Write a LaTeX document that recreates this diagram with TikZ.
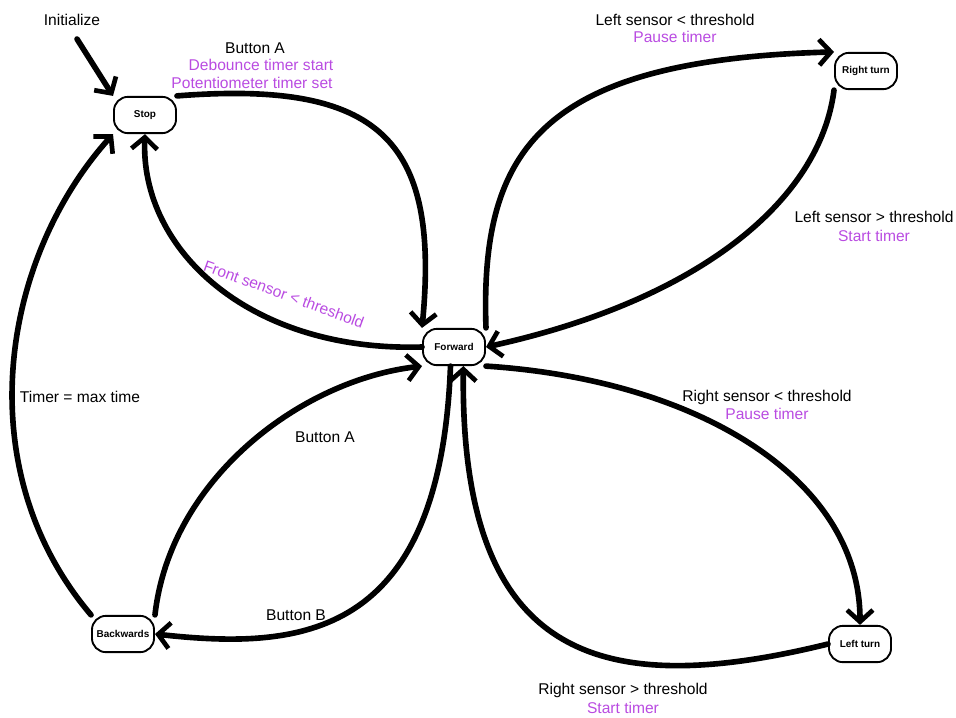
\documentclass[tikz,border=0pt]{standalone}
\usepackage{fontspec}
\setmainfont{Liberation Sans}
\usetikzlibrary{arrows.meta}
\definecolor{lblpurple}{RGB}{185,75,225}
\tikzset{
  state/.style={draw=black, line width=1.6pt, rounded corners=12pt, fill=white,
    minimum width=53pt, minimum height=31pt, inner sep=1pt,
    font=\fontsize{8.5}{10}\selectfont\bfseries},
  edge/.style={line width=4.8pt, line cap=round, -{Straight Barb[length=10pt,width=22pt,line width=4pt]}},
  lbl/.style={font=\fontsize{13.3}{16}\selectfont, align=center, inner sep=0pt},
  plbl/.style={lbl, text=lblpurple},
}
\begin{document}
\begin{tikzpicture}[x=0.03cm,y=-0.03cm]
\path[use as bounding box] (0,0) rectangle (956,717);

\node[state] (stop) at (145,115) {Stop};
\node[state] (fwd) at (454,347) {Forward};
\node[state] (rt) at (866,71) {Right turn};
\node[state] (bk) at (123,634) {Backwards};
\node[state] (lt) at (860,644) {Left turn};

\coordinate (init) at (77,39);

% Initialize -> Stop
\draw[edge] (init) -- (stop.north west);

% Stop -> Forward
\draw[edge] (stop.north east) .. controls (380,80) and (440,140) .. (fwd.north west);
% Forward -> Stop
\draw[edge] (fwd.west) .. controls (250,352) and (140,250) .. (stop.south);
% Forward -> Right turn
\draw[edge] (fwd.north east) .. controls (480,150) and (540,60) .. (rt.north west);
% Right turn -> Forward
\draw[edge] (rt.south west) .. controls (820,200) and (700,300) .. (fwd.east);
% Forward -> Left turn
\draw[edge] (fwd.south east) .. controls (700,380) and (860,480) .. (lt.north);
% Left turn -> Forward
\draw[edge] (lt.west) .. controls (600,700) and (460,660) .. ([xshift=8pt]fwd.south);
% Backwards -> Stop
\draw[edge] (bk.north west) .. controls (-32,470) and (0,260) .. (stop.south west);
% Forward -> Backwards
\draw[edge] ([xshift=-3pt]fwd.south) .. controls (440,640) and (300,650) .. (bk.east);
% Backwards -> Forward
\draw[edge] (bk.north east) .. controls (170,480) and (300,380) .. (fwd.south west);

% Labels
\node[lbl] (linit) at (72,20) {Initialize};
\node[lbl] (lba1) at (255,48) {Button A};
\node[plbl] (lba2) at (261,65) {Debounce timer start};
\node[plbl] (lba3) at (252,83) {Potentiometer timer set};
\node[plbl, rotate=-20] (lfront) at (284,294) {Front sensor < threshold};
\node[lbl] (lls1) at (675,20) {Left sensor < threshold};
\node[plbl] (lls2) at (675,37) {Pause timer};
\node[lbl] (lls3) at (874,217) {Left sensor > threshold};
\node[plbl] (lls4) at (874,236) {Start timer};
\node[lbl] (lrs1) at (767,397) {Right sensor < threshold};
\node[plbl] (lrs2) at (767,414) {Pause timer};
\node[lbl] (lrs3) at (623,690) {Right sensor > threshold};
\node[plbl] (lrs4) at (623,708) {Start timer};
\node[lbl] (ltm) at (80,397) {Timer = max time};
\node[lbl] (lba4) at (325,437) {Button A};
\node[lbl] (lbb) at (296,615) {Button B};
\end{tikzpicture}
\end{document}
